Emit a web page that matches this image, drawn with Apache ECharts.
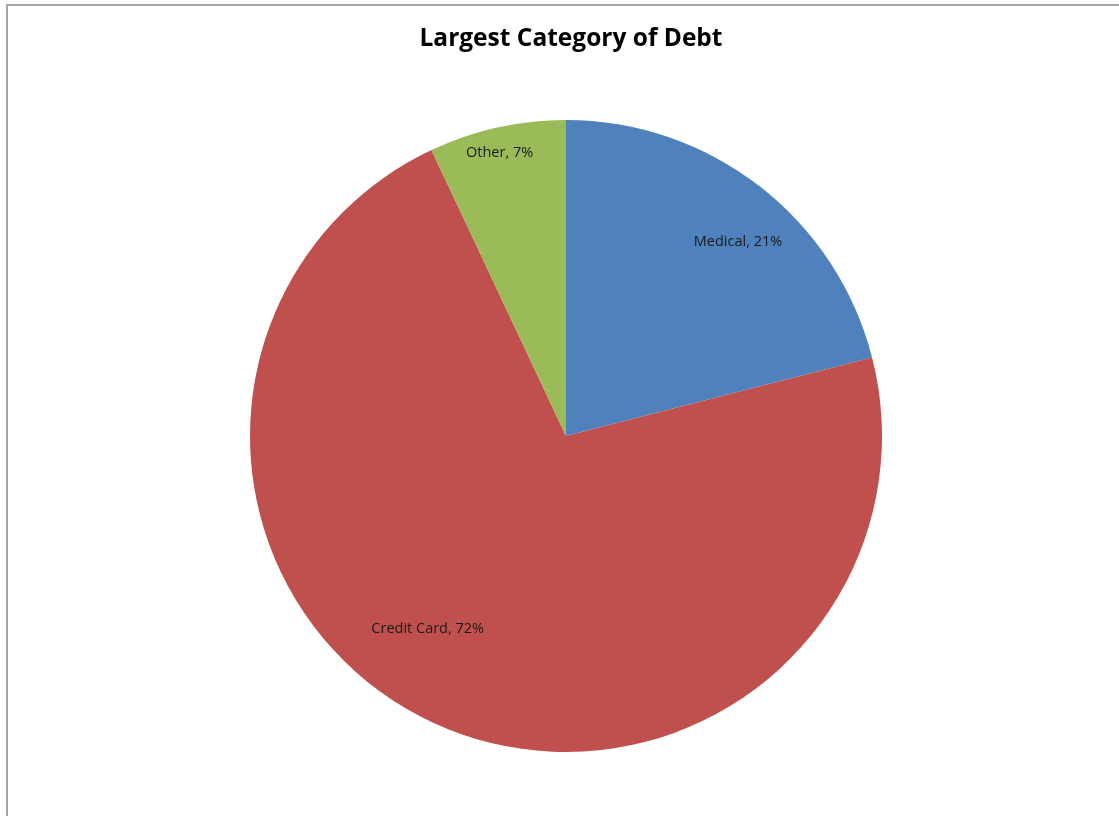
<!DOCTYPE html>
<html>
<head>
<meta charset="utf-8">
<script src="https://cdn.jsdelivr.net/npm/echarts@6/dist/echarts.min.js"></script>
<style>
html,body{margin:0;padding:0;background:#fff;}
#chart{width:1119px;height:816px;}
</style>
</head>
<body>
<div id="chart"></div>
<script>
const categories = ['Medical', 'Credit Card', 'Other'];
const values = [21, 72, 7];
const colors = ['#4F81BD', '#C0504D', '#9BBB59'];

const CX = 566, CY = 436, R = 316;
// label placement in polar terms (fraction of radius, degrees from +x, counter-clockwise)
const labelPolar = [[0.82, 48.4], [0.75, -125.7], [0.92, 103.2]];

const chart = echarts.init(document.getElementById('chart'));
chart.setOption({
  backgroundColor: '#fff',
  animation: false,
  title: {
    text: 'Largest Category of Debt',
    left: 566, top: 22, textAlign: 'center',
    textStyle: {fontFamily: 'Open Sans', fontWeight: 'bold', fontSize: 24.5, color: '#000'}
  },
  graphic: [
    {type: 'line', shape: {x1: 6, y1: 5, x2: 1119, y2: 5}, style: {stroke: '#a6a6a6', lineWidth: 2}},
    {type: 'line', shape: {x1: 7, y1: 4, x2: 7, y2: 816}, style: {stroke: '#a6a6a6', lineWidth: 2}}
  ],
  series: [{
    type: 'pie',
    center: [CX, CY],
    radius: [0, R],
    startAngle: 90,
    clockwise: true,
    avoidLabelOverlap: false,
    data: categories.map((c, i) => ({name: c, value: values[i], itemStyle: {color: colors[i]}})),
    itemStyle: {borderWidth: 0},
    label: {
      show: true,
      position: 'inside',
      formatter: p => p.name + ', ' + p.value + '%',
      fontFamily: 'Open Sans', fontSize: 14.5, color: '#1a1a1a'
    },
    labelLine: {show: false},
    labelLayout: function (params) {
      const lp = labelPolar[params.dataIndex];
      const a = lp[1] * Math.PI / 180;
      return {x: CX + lp[0] * R * Math.cos(a), y: CY - lp[0] * R * Math.sin(a), align: 'center', verticalAlign: 'middle'};
    }
  }]
});
</script>
</body>
</html>
